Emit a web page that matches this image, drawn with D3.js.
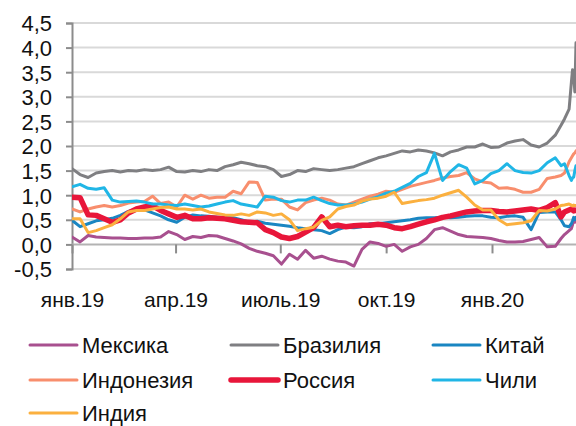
<!DOCTYPE html>
<html>
<head>
<meta charset="utf-8">
<script src="https://cdn.jsdelivr.net/npm/d3@7/dist/d3.min.js"></script>
<style>
  html, body { margin: 0; padding: 0; background: #fff; }
  svg { display: block; font-family: "Liberation Sans", Arial, Helvetica, sans-serif; }
</style>
</head>
<body>
<svg id="chart" width="576" height="426"></svg>
<script>
// Weekly observations from 1 Jan 2019, then daily-ish points in March 2020
const firstDay = new Date(2019, 0, 1);
const weeklyCount = 61;
const tailDays = ["2020-03-01", "2020-03-04", "2020-03-08", "2020-03-10", "2020-03-11", "2020-03-12", "2020-03-13", "2020-03-14"];

const mexico = [0.15,0.05,0.18,0.15,0.14,0.13,0.13,0.12,0.12,0.13,0.13,0.15,0.26,0.2,0.1,0.16,0.14,0.18,0.17,0.12,0.07,0.01,-0.08,-0.14,-0.18,-0.23,-0.4,-0.2,-0.3,-0.12,-0.28,-0.24,-0.3,-0.34,-0.36,-0.44,-0.1,0.05,0.02,-0.04,0.0,-0.14,-0.05,0.0,0.12,0.3,0.34,0.27,0.2,0.16,0.15,0.14,0.12,0.08,0.05,0.05,0.06,0.1,0.14,-0.05,-0.04,
  0.12,0.2,0.28,0.32,0.4,0.49,0.45,0.5];
const brazil = [1.54,1.42,1.36,1.45,1.48,1.5,1.47,1.5,1.49,1.52,1.5,1.52,1.57,1.48,1.47,1.5,1.48,1.52,1.5,1.58,1.62,1.67,1.64,1.6,1.58,1.52,1.38,1.42,1.5,1.48,1.54,1.52,1.5,1.52,1.55,1.58,1.64,1.7,1.76,1.8,1.85,1.9,1.88,1.92,1.9,1.86,1.8,1.88,1.92,1.98,1.98,2.04,1.97,1.98,2.06,2.1,2.13,2.02,1.98,2.06,2.22,
  2.42,2.55,2.75,3.3,3.55,3.45,3.1,4.1];
const china = [0.49,0.36,0.42,0.48,0.5,0.53,0.59,0.67,0.72,0.7,0.64,0.58,0.5,0.45,0.55,0.6,0.58,0.57,0.55,0.55,0.54,0.5,0.45,0.47,0.43,0.41,0.39,0.37,0.34,0.32,0.3,0.28,0.22,0.3,0.35,0.34,0.36,0.42,0.42,0.44,0.46,0.48,0.5,0.53,0.54,0.54,0.55,0.54,0.55,0.57,0.58,0.58,0.55,0.54,0.57,0.58,0.55,0.3,0.65,0.66,0.66,
  0.5,0.38,0.36,0.42,0.48,0.55,0.5,0.55];
const indonesia = [0.72,0.66,0.72,0.76,0.79,0.76,0.79,0.84,0.86,0.87,0.98,0.83,0.86,0.76,1.0,0.92,1.0,0.94,0.96,0.96,1.08,1.03,1.27,1.26,0.9,0.92,0.92,0.76,0.7,0.85,0.9,0.94,0.9,0.82,0.8,0.86,0.92,0.98,1.02,1.08,1.06,1.12,1.18,1.22,1.26,1.3,1.35,1.38,1.4,1.46,1.33,1.27,1.25,1.14,1.15,1.12,1.06,1.06,1.12,1.34,1.37,
  1.4,1.45,1.68,1.76,1.8,1.84,1.86,1.9];
const russia = [0.96,0.95,0.6,0.59,0.52,0.45,0.5,0.64,0.72,0.76,0.79,0.69,0.62,0.55,0.59,0.52,0.52,0.54,0.53,0.52,0.49,0.46,0.45,0.44,0.3,0.24,0.15,0.12,0.16,0.25,0.34,0.56,0.36,0.39,0.36,0.38,0.39,0.39,0.41,0.39,0.34,0.32,0.36,0.41,0.46,0.5,0.55,0.58,0.62,0.66,0.68,0.69,0.69,0.67,0.66,0.68,0.7,0.72,0.69,0.75,0.85,
  0.56,0.66,0.7,0.72,0.7,0.68,0.7,0.69];
const chile = [1.17,1.22,1.14,1.12,1.15,0.9,0.86,0.87,0.88,0.86,0.82,0.82,0.8,0.79,0.82,0.79,0.76,0.78,0.82,0.86,0.89,0.82,0.79,0.76,0.98,0.96,0.89,0.86,0.9,0.9,0.96,0.89,0.83,0.8,0.8,0.82,0.86,0.92,0.97,1.04,1.08,1.16,1.24,1.38,1.46,1.85,1.3,1.48,1.62,1.55,1.23,1.3,1.44,1.5,1.64,1.5,1.46,1.45,1.5,1.66,1.76,
  1.6,1.64,1.4,1.3,1.35,1.37,1.5,1.6];
const india = [0.52,0.52,0.24,0.28,0.34,0.4,0.52,0.66,0.69,0.69,0.72,0.75,0.76,0.72,0.72,0.7,0.72,0.66,0.63,0.6,0.59,0.62,0.59,0.66,0.64,0.59,0.62,0.5,0.28,0.32,0.35,0.49,0.56,0.72,0.77,0.8,0.88,0.92,0.94,0.98,1.06,0.83,0.86,0.89,0.91,0.94,1.0,1.05,1.1,0.96,0.8,0.7,0.7,0.5,0.4,0.42,0.44,0.48,0.69,0.68,0.72,
  0.79,0.8,0.82,0.8,0.78,0.8,0.79,0.79];

const seriesNames = ["Мексика", "Бразилия", "Китай", "Индонезия", "Россия", "Чили", "Индия"];
const seriesColors = ["#a8508f", "#7f7f82", "#1a86c2", "#f88e6d", "#e8163a", "#20b6e6", "#fbb03f"];
const seriesWidths = [3, 3, 3, 3, 5.5, 3, 3];
const seriesValues = [mexico, brazil, china, indonesia, russia, chile, india];

const yTicks = [-0.5, 0, 0.5, 1, 1.5, 2, 2.5, 3, 3.5, 4, 4.5];
const yTickLabels = ["-0,5", "0,0", "0,5", "1,0", "1,5", "2,0", "2,5", "3,0", "3,5", "4,0", "4,5"];
const xTickDates = ["2019-01-01", "2019-04-01", "2019-07-01", "2019-10-01", "2020-01-01"];
const xTickLabels = ["янв.19", "апр.19", "июль.19", "окт.19", "янв.20"];

const parse = d3.timeParse("%Y-%m-%d");
const dates = d3.range(weeklyCount).map(i => d3.timeDay.offset(firstDay, 7 * i))
  .concat(tailDays.map(parse));

const svg = d3.select("#chart");
const W = 576;

const x = d3.scaleTime()
  .domain([parse("2019-01-01"), parse("2020-01-01")])
  .range([72, 492]);
const y = d3.scaleLinear().domain([-0.5, 4.5]).range([269, 23]);

// horizontal gridlines
svg.append("g")
  .selectAll("line")
  .data(yTicks.filter(v => v !== 0))
  .join("line")
  .attr("x1", 72).attr("x2", W)
  .attr("y1", d => y(d)).attr("y2", d => y(d))
  .attr("stroke", "#d9d9d9").attr("stroke-width", 2);

// y axis
const yAxis = d3.axisLeft(y)
  .tickValues(yTicks)
  .tickSize(6)
  .tickFormat((d, i) => yTickLabels[i]);
const gy = svg.append("g").attr("transform", "translate(72,0)").call(yAxis);
gy.select(".domain").attr("stroke", "#8c8c8c").attr("stroke-width", 2);
gy.selectAll(".tick line").attr("stroke", "#8c8c8c").attr("stroke-width", 2);
gy.selectAll(".tick text")
  .attr("x", -20).attr("dy", "0.36em")
  .attr("fill", "#111").attr("font-size", 22)
  .attr("font-family", "Liberation Sans, Arial, sans-serif");

// category axis along the zero line
const xAxis = d3.axisBottom(x)
  .tickValues(xTickDates.map(parse))
  .tickSize(9)
  .tickFormat((d, i) => xTickLabels[i]);
const gx = svg.append("g").attr("transform", `translate(0,${y(0)})`).call(xAxis);
gx.select(".domain").attr("d", `M72,0H${W}`).attr("stroke", "#b3b3b3").attr("stroke-width", 2);
gx.selectAll(".tick line").attr("stroke", "#8c8c8c").attr("stroke-width", 2);
gx.selectAll(".tick text")
  .attr("y", 0).attr("dy", 0)
  .attr("transform", `translate(0,${307 - y(0)})`)
  .attr("fill", "#111").attr("font-size", 21)
  .attr("font-family", "Liberation Sans, Arial, sans-serif");

// series lines
svg.append("clipPath").attr("id", "plotClip")
  .append("rect").attr("x", 72).attr("y", 0).attr("width", W - 72).attr("height", 300);

const line = d3.line()
  .x((d, i) => x(dates[i]))
  .y(d => y(d));

svg.append("g").attr("clip-path", "url(#plotClip)")
  .selectAll("path")
  .data(seriesValues)
  .join("path")
  .attr("d", d => line(d))
  .attr("fill", "none")
  .attr("stroke", (d, i) => seriesColors[i])
  .attr("stroke-width", (d, i) => seriesWidths[i])
  .attr("stroke-linejoin", "round")
  .attr("stroke-linecap", "round");

// legend: three columns, three rows
const legendCols = [30, 231, 433];
const legendRows = [345, 380, 413];
const legend = svg.append("g");
seriesNames.forEach((name, i) => {
  const cx = legendCols[i % 3];
  const cy = legendRows[Math.floor(i / 3)];
  legend.append("line")
    .attr("x1", cx).attr("x2", cx + 47)
    .attr("y1", cy).attr("y2", cy)
    .attr("stroke", seriesColors[i])
    .attr("stroke-width", seriesWidths[i])
    .attr("stroke-linecap", "round");
  legend.append("text")
    .attr("x", cx + 52).attr("y", cy)
    .attr("dy", "0.36em")
    .attr("font-size", 22)
    .attr("fill", "#111")
    .text(name);
});
</script>
</body>
</html>
